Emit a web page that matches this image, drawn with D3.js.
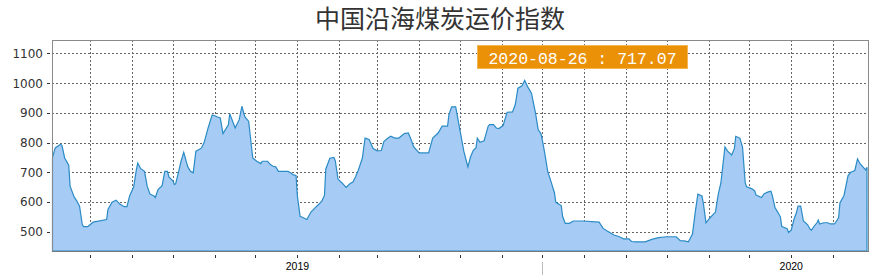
<!DOCTYPE html>
<html>
<head>
<meta charset="utf-8">
<script src="https://cdn.jsdelivr.net/npm/d3@7"></script>
<style>
body{margin:0;background:#ffffff;}
</style>
</head>
<body>
<svg id="svg" width="880" height="278"></svg>
<script>
const title="中国沿海煤炭运价指数";
const lastLabel="2020-08-26 : 717.07";
const yTicks=[500,600,700,800,900,1000,1100];
const yearLabels=["2019","2020"];
const dates=["2018-07-04","2018-07-06","2018-07-10","2018-07-11","2018-07-13","2018-07-16","2018-07-17","2018-07-20","2018-07-22","2018-07-24",
"2018-07-26","2018-07-27","2018-07-30","2018-08-03","2018-08-13","2018-08-14","2018-08-17","2018-08-20","2018-08-23","2018-08-26",
"2018-08-28","2018-08-30","2018-09-02","2018-09-04","2018-09-05","2018-09-07","2018-09-10","2018-09-12","2018-09-14","2018-09-17",
"2018-09-18","2018-09-20","2018-09-23","2018-09-25","2018-09-27","2018-09-28","2018-10-01","2018-10-02","2018-10-03","2018-10-05",
"2018-10-07","2018-10-09","2018-10-12","2018-10-14","2018-10-16","2018-10-18","2018-10-22","2018-10-24","2018-10-27","2018-10-30",
"2018-11-01","2018-11-03","2018-11-05","2018-11-07","2018-11-11","2018-11-12","2018-11-16","2018-11-19","2018-11-21","2018-11-23",
"2018-11-26","2018-11-29","2018-12-02","2018-12-05","2018-12-06","2018-12-10","2018-12-12","2018-12-14","2018-12-16","2018-12-18",
"2018-12-25","2018-12-27","2018-12-29","2018-12-31","2019-01-01","2019-01-03","2019-01-05","2019-01-08","2019-01-11","2019-01-14",
"2019-01-17","2019-01-19","2019-01-21","2019-01-22","2019-01-25","2019-01-28","2019-01-29","2019-01-31","2019-02-03","2019-02-06",
"2019-02-09","2019-02-11","2019-02-13","2019-02-15","2019-02-18","2019-02-20","2019-02-23","2019-02-26","2019-03-01","2019-03-04",
"2019-03-06","2019-03-09","2019-03-11","2019-03-14","2019-03-17","2019-03-21","2019-03-24","2019-03-26","2019-03-28","2019-04-01",
"2019-04-08","2019-04-11","2019-04-15","2019-04-18","2019-04-22","2019-04-23","2019-04-25","2019-04-28","2019-05-02","2019-05-04",
"2019-05-07","2019-05-09","2019-05-11","2019-05-13","2019-05-14","2019-05-16","2019-05-19","2019-05-22","2019-05-23","2019-05-26",
"2019-05-28","2019-05-30","2019-06-02","2019-06-05","2019-06-09","2019-06-11","2019-06-13","2019-06-16","2019-06-18","2019-06-20",
"2019-06-23","2019-06-26","2019-06-28","2019-06-30","2019-07-01","2019-07-03","2019-07-05","2019-07-07","2019-07-10","2019-07-11",
"2019-07-15","2019-07-16","2019-07-18","2019-07-21","2019-07-24","2019-07-31","2019-08-12","2019-08-15","2019-08-18","2019-08-23",
"2019-08-27","2019-08-30","2019-09-03","2019-09-05","2019-09-08","2019-09-15","2019-09-20","2019-09-25","2019-10-01","2019-10-08",
"2019-10-11","2019-10-14","2019-10-17","2019-10-20","2019-10-22","2019-10-24","2019-10-27","2019-10-28","2019-10-30","2019-11-02",
"2019-11-06","2019-11-08","2019-11-10","2019-11-13","2019-11-15","2019-11-18","2019-11-20","2019-11-21","2019-11-24","2019-11-26",
"2019-11-28","2019-11-29","2019-12-03","2019-12-05","2019-12-06","2019-12-10","2019-12-12","2019-12-15","2019-12-17","2019-12-18",
"2019-12-20","2019-12-22","2019-12-24","2019-12-25","2019-12-29","2019-12-30","2020-01-01","2020-01-03","2020-01-05","2020-01-06",
"2020-01-08","2020-01-10","2020-01-13","2020-01-15","2020-01-16","2020-01-18","2020-01-20","2020-01-21","2020-01-22","2020-01-25",
"2020-01-28","2020-01-30","2020-02-02","2020-02-05","2020-02-06","2020-02-09","2020-02-12","2020-02-14","2020-02-17","2020-02-19",
"2020-02-21","2020-02-25","2020-02-26"];
const values=[750,782,794,790,748,724,653,617,603,586,
524,517,517,532,541,575,599,606,592,584,
584,620,651,709,731,713,703,653,627,620,
615,642,655,703,703,684,671,659,661,698,
737,767,718,703,698,771,781,799,849,893,
890,886,883,830,860,897,849,877,922,888,
871,748,737,729,737,737,726,720,718,703,
703,698,691,689,620,552,548,541,566,580,
593,603,622,711,747,750,739,677,664,649,
662,667,685,707,747,815,810,780,772,773,
804,815,821,815,815,830,832,810,785,765,
765,815,832,855,855,894,920,920,821,771,
718,752,774,782,815,801,806,855,860,860,
849,847,857,902,903,927,983,991,1009,989,
966,899,843,830,810,759,703,675,631,599,
588,552,528,528,536,536,532,511,502,489,
483,476,476,467,466,466,474,480,483,483,
470,469,466,492,564,626,620,597,530,547,
566,625,664,785,771,758,780,821,815,785,
664,651,644,637,623,615,628,634,636,622,
581,566,550,517,510,497,505,541,566,586,
586,536,524,508,505,519,530,539,526,530,
530,526,526,547,597,622,689,700,706,745,
728,708,717.07];

const parseDate=d3.timeParse("%Y-%m-%d");
let data=dates.map((d,i)=>({date:parseDate(d),value:values[i]}));

const plotLeft=52, plotRight=868, plotTop=40, plotBottom=251;
const svg=d3.select("#svg");

let x=d3.scaleTime().domain([data[0].date,data[data.length-1].date]).range([plotLeft+0.5,plotRight-1]);
let y=d3.scaleLinear().domain([435,1145]).range([plotBottom,plotTop]);

// title
svg.append("text").attr("x",440).attr("y",28).attr("text-anchor","middle")
    .style("font-family","'Noto Sans CJK SC'").style("font-size","25px").style("fill","#333333").text(title);

// grid
let months=d3.timeMonth.range(d3.timeMonth.ceil(x.domain()[0]),x.domain()[1]);
svg.append("g").selectAll("line").data(months).enter().append("line")
    .attr("x1",d=>Math.round(x(d))+0.5).attr("x2",d=>Math.round(x(d))+0.5)
    .attr("y1",plotTop).attr("y2",plotBottom)
    .attr("stroke","#666").attr("stroke-dasharray","2,2").attr("stroke-width",1);
svg.append("g").selectAll("line").data(yTicks).enter().append("line")
    .attr("x1",plotLeft).attr("x2",plotRight)
    .attr("y1",d=>Math.round(y(d))+0.5).attr("y2",d=>Math.round(y(d))+0.5)
    .attr("stroke","#666").attr("stroke-dasharray","2,2").attr("stroke-width",1);

// area
let area=d3.area().x(d=>x(d.date)).y0(plotBottom).y1(d=>y(d.value));
svg.append("path").datum(data).attr("d",area).attr("fill","#a6cbf4").attr("stroke","#2a8bc5").attr("stroke-width",1.2);

// frame
svg.append("rect").attr("x",plotLeft+0.5).attr("y",plotTop+0.5).attr("width",plotRight-plotLeft).attr("height",plotBottom-plotTop)
    .attr("fill","none").attr("stroke","#8a8a8a").attr("stroke-width",1);
svg.append("line").attr("x1",plotLeft).attr("x2",plotRight+1).attr("y1",plotBottom+0.5).attr("y2",plotBottom+0.5)
    .attr("stroke","#777").attr("stroke-width",1);

// y ticks
svg.append("g").selectAll("line").data(yTicks).enter().append("line")
    .attr("x1",47).attr("x2",50).attr("y1",d=>Math.round(y(d))+0.5).attr("y2",d=>Math.round(y(d))+0.5)
    .attr("stroke","#333");
svg.append("g").selectAll("text").data(yTicks).enter().append("text")
    .attr("x",43).attr("y",d=>y(d)+4.5).attr("text-anchor","end")
    .style("font-family","'DejaVu Sans'").style("font-size","12px").style("fill","#333").text(d=>d);

// x ticks
svg.append("g").selectAll("line").data(months).enter().append("line")
    .attr("x1",d=>Math.round(x(d))+0.5).attr("x2",d=>Math.round(x(d))+0.5)
    .attr("y1",255).attr("y2",258).attr("stroke","#333");
let midYear=months.filter(d=>d.getMonth()==6);
svg.append("g").selectAll("line").data(midYear).enter().append("line")
    .attr("x1",d=>Math.round(x(d))+0.5).attr("x2",d=>Math.round(x(d))+0.5)
    .attr("y1",262).attr("y2",275).attr("stroke","#bbb");
let years=months.filter(d=>d.getMonth()==0);
svg.append("g").selectAll("text").data(years).enter().append("text")
    .attr("x",d=>x(d)).attr("y",270).attr("text-anchor","middle")
    .style("font-family","'Liberation Sans'").style("font-size","10.5px").style("fill","#000")
    .text((d,i)=>yearLabels[i]);

// last value box
svg.append("rect").attr("x",477.5).attr("y",45.5).attr("width",210).attr("height",23)
    .attr("fill","#ea9107").attr("stroke","#f5b555").attr("stroke-width",1);
svg.append("text").attr("x",582.5).attr("y",63.5).attr("text-anchor","middle")
    .style("font-family","'Liberation Mono'").style("font-size","16.5px").style("fill","#ffffff").text(lastLabel);
</script>
</body>
</html>
